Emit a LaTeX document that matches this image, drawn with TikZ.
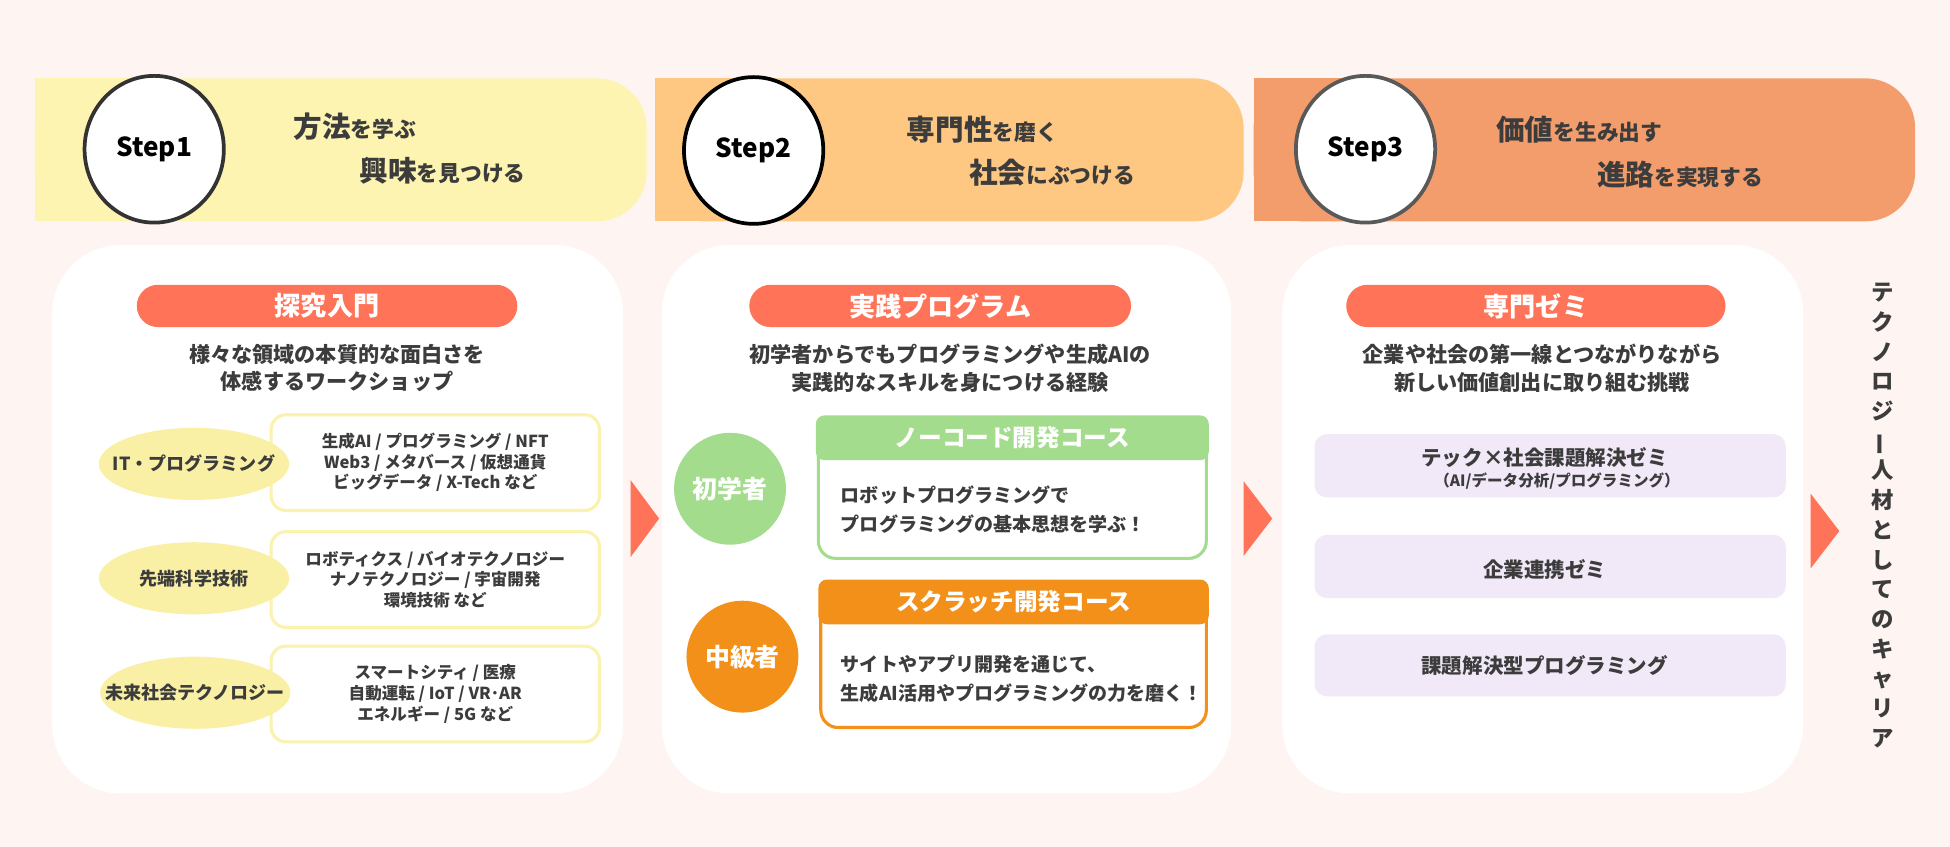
\documentclass[tikz,border=0pt]{standalone}
\usepackage{fontspec}
\usepackage{graphicx}
\setmainfont{Noto Sans CJK JP}
\usetikzlibrary{shapes.geometric}
\definecolor{bgpink}{HTML}{FEF4F2}
\definecolor{barA}{HTML}{FDF4B2}
\definecolor{barB}{HTML}{FFC882}
\definecolor{barC}{HTML}{F29D6B}
\definecolor{coral}{HTML}{FF7458}
\definecolor{yell}{HTML}{F9F0A6}
\definecolor{ybord}{HTML}{FAF2AE}
\definecolor{grn}{HTML}{A4DC8D}
\definecolor{orng}{HTML}{F39019}
\definecolor{lav}{HTML}{F2E9F8}
\definecolor{txt}{HTML}{3C3C3C}
\newcommand\hbig[1]{{\fontsize{23}{23}\selectfont #1}}
\tikzset{
  stepcircle/.style={ellipse, fill=white, line width=3pt, minimum width=112pt, minimum height=118pt, inner sep=0pt, font=\fontsize{21}{21}\selectfont\bfseries, text=black},
  hdr/.style={anchor=west, inner sep=0pt, text=txt, font=\fontsize{17.5}{17.5}\selectfont\bfseries},
  panel/.style={fill=white, rounded corners=55pt, inner sep=0pt},
  pill/.style={fill=coral, text=white, rounded corners=17pt, inner sep=0pt, minimum height=34pt, font=\fontsize{21}{21}\selectfont\bfseries},
  sub/.style={align=center, inner sep=0pt, text=txt, font=\fontsize{17}{22}\selectfont\bfseries},
  topicbox/.style={draw=ybord, line width=2.5pt, fill=white, rounded corners=12pt, minimum width=264pt, minimum height=77pt, inner sep=0pt},
  topictext/.style={align=center, inner sep=0pt, text=txt, font=\fontsize{13.3}{16.5}\selectfont\bfseries},
  topic/.style={ellipse, fill=yell, inner sep=0pt, minimum width=153pt, minimum height=58pt},
  topiclabel/.style={inner sep=0pt, text=txt, font=\fontsize{14.5}{14.5}\selectfont\bfseries},
  level/.style={circle, inner sep=0pt, minimum size=90pt, text=white, font=\fontsize{20}{20}\selectfont\bfseries},
  coursehead/.style={rounded corners=7pt, minimum height=36pt, inner sep=0pt, text=white, font=\fontsize{19}{19}\selectfont\bfseries},
  coursetext/.style={anchor=west, align=left, inner sep=0pt, text=txt, font=\fontsize{15.3}{23}\selectfont\bfseries},
  zemi/.style={fill=lav, rounded corners=10pt, minimum width=379pt, inner sep=0pt},
  zemitext/.style={inner sep=0pt, text=txt, font=\fontsize{16.5}{16.5}\selectfont\bfseries},
  arrowtri/.style={fill=coral}
}
\begin{document}
\begin{tikzpicture}[x=1pt,y=-1pt]
\fill[bgpink] (0,0) rectangle (1568,681);
\useasboundingbox (0,0) rectangle (1568,681);

% header bars
\fill[barA, rounded corners=40pt] (28,63) rectangle (520,178);
\fill[barA] (28,63) rectangle (120,178);
\fill[barB, rounded corners=40pt] (527,63) rectangle (1000,178);
\fill[barB] (527,63) rectangle (620,178);
\fill[barC, rounded corners=40pt] (1008,63) rectangle (1540,178);
\fill[barC] (1008,63) rectangle (1100,178);

% step circles
\node[stepcircle, draw=black!80] (s1) at (124,120) {Step1};
\node[stepcircle, draw=black] (s2) at (606,121) {Step2};
\node[stepcircle, draw=black!65] (s3) at (1098,120) {Step3};

% header texts
\node[hdr] (h1a) at (236,102) {\hbig{方法}を学ぶ};
\node[hdr] (h1b) at (289,137) {\hbig{興味}を見つける};
\node[hdr] (h2a) at (729,104) {\hbig{専門性}を磨く};
\node[hdr] (h2b) at (779,139) {\hbig{社会}にぶつける};
\node[hdr] (h3a) at (1203,104) {\hbig{価値}を生み出す};
\node[hdr] (h3b) at (1284,140) {\hbig{進路}を実現する};

% panels
\node[panel, minimum width=459pt, minimum height=441pt] (p1) at (271.5,417.5) {};
\node[panel, minimum width=458pt, minimum height=441pt] (p2) at (761,417.5) {};
\node[panel, minimum width=419pt, minimum height=441pt] (p3) at (1240.5,417.5) {};

% arrows
\fill[arrowtri] (507,386) -- (530,417) -- (507,448) -- cycle;
\fill[arrowtri] (1000,387) -- (1023,417) -- (1000,447) -- cycle;
\fill[arrowtri] (1456,397) -- (1479,427) -- (1456,457) -- cycle;

% panel 1
\node[pill, minimum width=306pt] (pl1) at (263,246) {探究入門};
\node[sub] (d1) at (271,296) {様々な領域の本質的な面白さを\\体感するワークショップ};

\node[topicbox] (b1) at (350,372) {};
\node[topictext] (t1) at (b1) {生成AI / プログラミング / NFT\\Web3 / メタバース / 仮想通貨\\ビッグデータ / X-Tech など};
\node[topic] (e1) at (156,373) {};
\node[topiclabel] (l1) at (e1) {IT・プログラミング};

\node[topicbox] (b2) at (350,466) {};
\node[topictext] (t2) at (b2) {ロボティクス / バイオテクノロジー\\ナノテクノロジー / 宇宙開発\\環境技術 など};
\node[topic] (e2) at (156,465) {};
\node[topiclabel] (l2) at (e2) {先端科学技術};

\node[topicbox] (b3) at (350,558) {};
\node[topictext] (t3) at (b3) {スマートシティ / 医療\\自動運転 / IoT / VR･AR\\エネルギー / 5G など};
\node[topic] (e3) at (157,557) {};
\node[topiclabel] (l3) at (e3) {未来社会テクノロジー};

% panel 2
\node[pill, minimum width=307pt] (pl2) at (756,246) {実践プログラム};
\node[sub] (d2) at (764,296) {初学者からでもプログラミングや生成AIの\\実践的なスキルを身につける経験};

\node[level, fill=grn] (c1) at (587,393) {初学者};
\draw[grn, line width=2.5pt, fill=white, rounded corners=14pt] (658,352) rectangle (970,449);
\node[coursehead, fill=grn, minimum width=316pt] (g1) at (814,352) {ノーコード開発コース};
\node[coursetext] (g1t) at (676,410) {ロボットプログラミングで\\プログラミングの基本思想を学ぶ！};

\node[level, fill=orng] (c2) at (597,528) {中級者};
\draw[orng, line width=2.5pt, fill=white, rounded corners=14pt] (660,484) rectangle (970,585);
\node[coursehead, fill=orng, minimum width=314pt] (g2) at (815,484) {スクラッチ開発コース};
\node[coursetext] (g2t) at (676,546) {サイトやアプリ開発を通じて、\\生成AI活用やプログラミングの力を磨く！};

% panel 3
\node[pill, minimum width=305pt] (pl3) at (1235,246) {専門ゼミ};
\node[sub] (d3) at (1240,296) {企業や社会の第一線とつながりながら\\新しい価値創出に取り組む挑戦};

\node[zemi, minimum height=51pt] (z1) at (1246.5,374.5) {};
\node[zemitext] (z1a) at (1242,368) {テック×社会課題解決ゼミ};
\node[zemitext, font=\fontsize{12.5}{12.5}\selectfont\bfseries] (z1b) at (1252,387) {（AI/データ分析/プログラミング）};
\node[zemi, minimum height=51pt] (z2) at (1246.5,455.5) {};
\node[zemitext] (z2a) at (1242,458) {企業連携ゼミ};
\node[zemi, minimum height=50pt] (z3) at (1246.5,535) {};
\node[zemitext] (z3a) at (1242,535) {課題解決型プログラミング};

% vertical career text
\node[align=center, inner sep=0pt, text=txt, font=\fontsize{18}{23.9}\selectfont\bfseries] (career) at (1514,414.5)
{テ\\ク\\ノ\\ロ\\ジ\\\rotatebox[origin=c]{90}{ー}\\人\\材\\と\\し\\て\\の\\キ\\ャ\\リ\\ア};
\end{tikzpicture}
\end{document}
